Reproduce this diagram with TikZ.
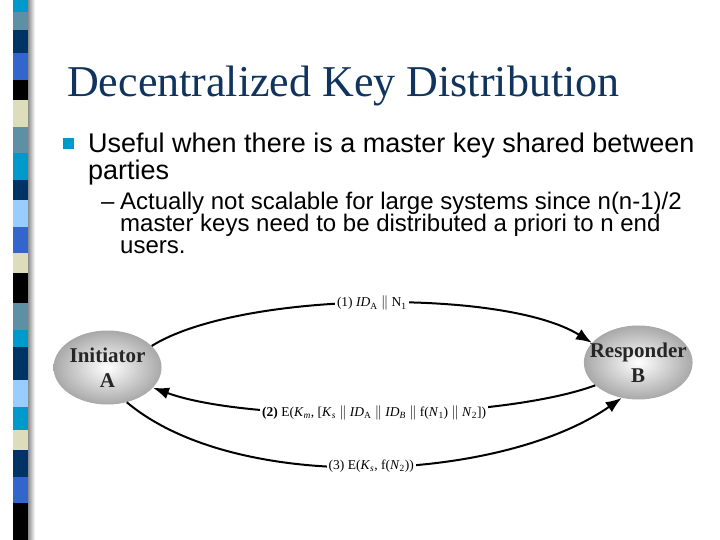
\documentclass[tikz,border=0pt]{standalone}
\usepackage{fontspec}
\setmainfont{Liberation Serif}
\setsansfont{Liberation Sans}
\usetikzlibrary{shapes.geometric,positioning,arrows.meta}

\definecolor{scyan}{HTML}{0099CC}
\definecolor{ssteel}{HTML}{5F8FA5}
\definecolor{snavy}{HTML}{003366}
\definecolor{sroyal}{HTML}{3366CC}
\definecolor{sbeige}{HTML}{DDDDBB}
\definecolor{slight}{HTML}{99CCFF}
\definecolor{titleblue}{RGB}{16,52,94}

\begin{document}
\begin{tikzpicture}[x=1pt,y=-1pt,node distance=422pt,
  party/.style={ellipse, minimum width=108pt, minimum height=74pt,
    inner xsep=-10pt, inner ysep=0pt,
    shading=radial, inner color=white, outer color=black!34, align=center,
    text=black!85, font=\fontsize{21}{25}\selectfont\bfseries},
  msg/.style={fill=white, inner sep=2pt, font=\fontsize{13.5}{15}\selectfont},
  flow/.style={line width=2pt, -{Latex[length=16pt,width=12pt]}},
  line/.style={anchor=base west, inner sep=0pt}]

  \fill[white] (0,0) rectangle (720,540);
  \useasboundingbox (0,0) rectangle (720,540);

  % side strip
  \foreach \ya/\yb/\c in {0/12/scyan, 12/30/ssteel, 30/53/snavy, 53/80/sroyal,
      80/100/black, 100/127/sbeige, 127/153/ssteel, 153/180/scyan, 180/200/snavy,
      200/227/slight, 227/253/sroyal, 253/273/sbeige, 273/303/black, 303/330/ssteel,
      330/347/scyan, 347/380/snavy, 380/407/slight, 407/430/scyan, 430/450/sbeige,
      450/477/snavy, 477/503/sroyal, 503/540/black}
    \fill[\c] (12.5,\ya) rectangle (28,\yb);
  \shade[left color=black!45, right color=white] (28,0) rectangle (35,540);

  % slide text
  \node[line, text=titleblue, font=\fontsize{44}{50}\selectfont] (title) at (67,97)
    {Decentralized Key Distribution};
  \fill[scyan] (63,138) rectangle (74,149);
  \node[line, font=\sffamily\fontsize{27}{27}\selectfont] (pt1a) at (88,153)
    {Useful when there is a master key shared between};
  \node[line, font=\sffamily\fontsize{27}{27}\selectfont] (pt1b) at (88,180) {parties};
  \node[line, font=\sffamily\fontsize{24}{24}\selectfont] (dash) at (101,210) {--};
  \node[line, font=\sffamily\fontsize{24}{24}\selectfont] (sub1a) at (120,210)
    {Actually not scalable for large systems since n(n-1)/2};
  \node[line, font=\sffamily\fontsize{24}{24}\selectfont] (sub1b) at (120,232)
    {master keys need to be distributed a priori to n end};
  \node[line, font=\sffamily\fontsize{24}{24}\selectfont] (sub1c) at (120,254) {users.};

  % parties
  \node[party] (init) at (107.5,367.5) {Initiator\\A};
  \node[party, right=of init, yshift=5pt] (resp) {Responder\\B};

  % messages
  \draw[flow] (init.26) to[out=32,in=148,looseness=0.6]
    node[msg] (m1) {(1) \textit{ID}\textsubscript{A} $\|$ N\textsubscript{1}} (resp.157);
  \draw[flow] (resp.208) to[out=200,in=-20,looseness=0.6]
    node[msg] (m2) {\textbf{(2)} E(\textit{K}\textsubscript{\textit{m}}, [\textit{K}\textsubscript{\textit{s}} $\|$ \textit{ID}\textsubscript{A} $\|$ \textit{ID}\textsubscript{\textit{B}} $\|$ f(\textit{N}\textsubscript{1}) $\|$ \textit{N}\textsubscript{2}])} (init.336);
  \draw[flow] (init.299) to[out=-40,in=215,looseness=0.75]
    node[msg] (m3) {(3) E(\textit{K}\textsubscript{\textit{s}}, f(\textit{N}\textsubscript{2}))} (resp.245);

\end{tikzpicture}
\end{document}
